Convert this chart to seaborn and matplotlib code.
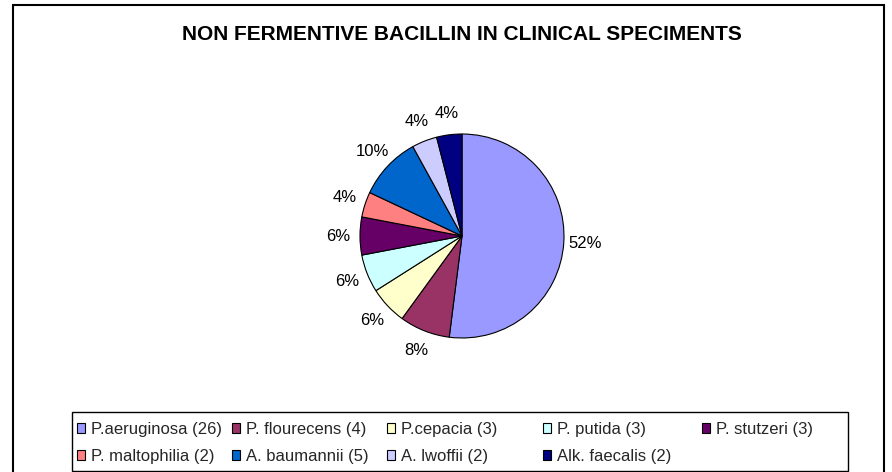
import matplotlib.pyplot as plt
import seaborn as sns
from matplotlib.patches import Rectangle

# organisms and isolate counts
names = ['P.aeruginosa', 'P. flourecens', 'P.cepacia', 'P. putida', 'P. stutzeri',
         'P. maltophilia', 'A. baumannii', 'A. lwoffii', 'Alk. faecalis']
counts = [26, 4, 3, 3, 3, 2, 5, 2, 2]
colors = ['#9999FF', '#993366', '#FFFFCC', '#CCFFFF', '#660066',
          '#FF8080', '#0066CC', '#CCCCFF', '#000080']

sns.set_theme(style="white")
plt.rcParams['font.family'] = ['Liberation Sans', 'DejaVu Sans']

W, H = 892, 472
fig = plt.figure(figsize=(W / 100, H / 100), dpi=100)
fig.patch.set_facecolor('white')

# outer chart frame
fig.patches.append(Rectangle((13 / W, -0.05), 871 / W, 1.05 - 5 / H,
                             transform=fig.transFigure, fill=False,
                             edgecolor='black', linewidth=1.5))

# pie: center (462, 236), radius ~102 px
r = 102
ax = fig.add_axes([(462 - r) / W, (H - 236 - r) / H, 2 * r / W, 2 * r / H])
wedges, texts, autotexts = ax.pie(
    counts, colors=colors, startangle=90, counterclock=False,
    autopct=lambda p: f'{p:.0f}%', pctdistance=1.21,
    wedgeprops=dict(edgecolor='black', linewidth=0.8),
    textprops=dict(fontsize=12, color='black'))
ax.set_xlim(-1, 1)
ax.set_ylim(-1, 1)
ax.set_aspect('equal')

fig.text(462 / W, 1 - 35 / H, 'NON FERMENTIVE BACILLIN IN CLINICAL SPECIMENTS',
         ha='center', va='center', fontsize=15, fontweight='bold', color='black')

# legend box, entries laid out row by row in equal-width columns
fig.patches.append(Rectangle((72 / W, 1 / H), 776 / W, 59 / H,
                             transform=fig.transFigure, fill=False,
                             edgecolor='black', linewidth=1.0))
labels = [f'{n} ({c})' for n, c in zip(names, counts)]
col_x = [77, 232, 387, 543, 702]
for c, x in enumerate(col_x):
    idx = [i for i in (c, c + 5) if i < len(labels)]
    leg = fig.legend([wedges[i] for i in idx], [labels[i] for i in idx],
                     loc='upper left', bbox_to_anchor=(x / W, 1 - 422 / H),
                     frameon=False, fontsize=12, handlelength=0.5,
                     handleheight=0.5, handletextpad=0.35, labelspacing=0.72,
                     borderpad=0, borderaxespad=0)
    for h in leg.legend_handles:
        h.set_linewidth(0.8)

fig.savefig('out.png', dpi=100)
